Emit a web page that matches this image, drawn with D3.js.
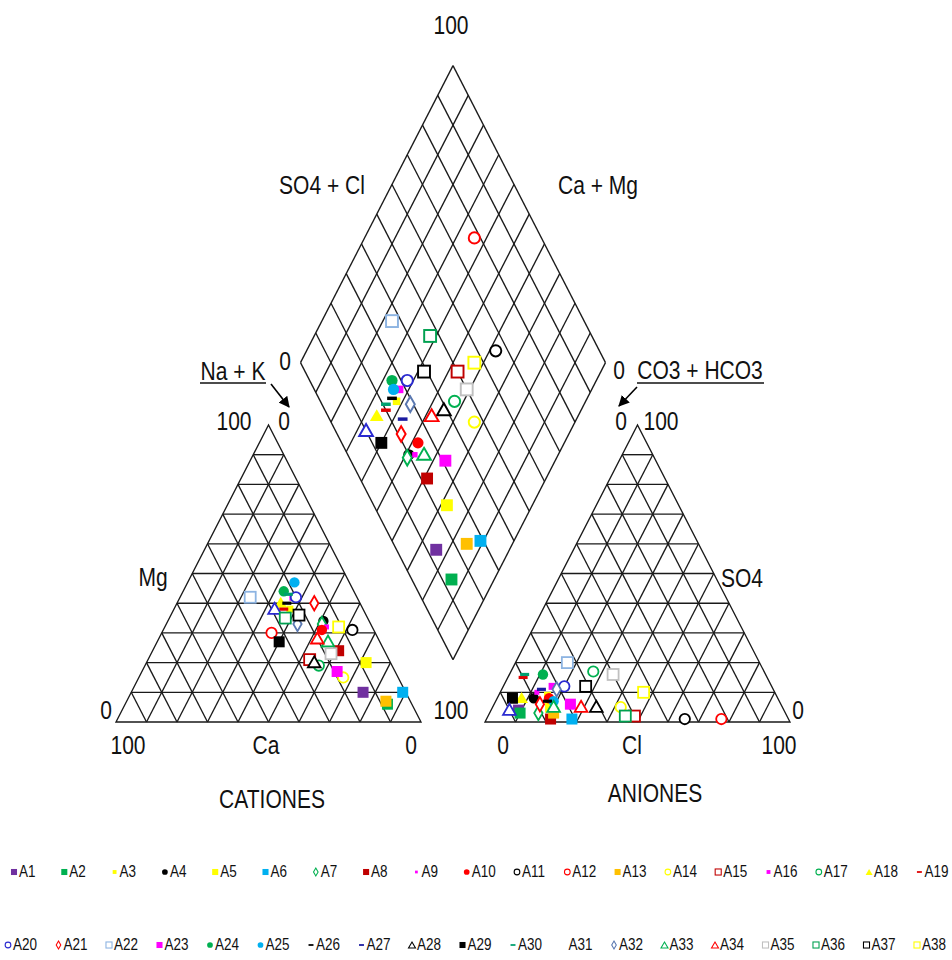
<!DOCTYPE html>
<html><head><meta charset="utf-8">
<script src="https://cdn.jsdelivr.net/npm/d3@7"></script>
<style>body{margin:0;background:#fff}svg{display:block}text{font-family:"Liberation Sans",Arial,sans-serif;fill:#111}</style>
</head><body><svg id="c" width="952" height="960"></svg>
<script>
// ---------- data (percent of meq) ----------
const samples = ["A1","A2","A3","A4","A5","A6","A7","A8","A9","A10","A11","A12","A13","A14","A15","A16","A17","A18","A19",
                 "A20","A21","A22","A23","A24","A25","A26","A27","A28","A29","A30","A31","A32","A33","A34","A35","A36","A37","A38"];
const cationMg  = [10,6,38,34,20,10,33,24,32,31,31,30,7,15,21,42,19,40,38, 42,40,42,17,44,47,40,35,20,27,43,38,33,27,28,23,35,36,32];
const cationNaK = [76,86,38,51,72,89,51,61,53,52,62,36,85,67,53,37,57,34,36, 38,45,23,64,33,35,36,43,55,40,35,33,43,56,52,59,38,42,57];
const anionSO4  = [4,3,9,8,5,1,3,1,10,8,1,1,3,5,2,12,17,8,15, 12,6,20,6,16,7,7,11,5,8,16,4,11,5,5,16,2,12,10];
const anionCl   = [9,10,16,12,19,28,16,21,12,17,65,77,21,42,48,16,27,8,5, 20,15,17,25,11,19,17,13,34,5,5,6,18,20,29,34,45,27,47];

// ---------- marker styles ----------
const markerShape = ["sq","sq","sqS","circle","sq","sq","diamond","sq","dot","circle","circle","circle","sq","circle","sq","sqS","circle","tri","dash",
                     "circle","diamond","sq","sq","circle","circle","dash","dash","tri","sq","dash","tri","diamond","tri","tri","sq","sq","sq","sq"];
const markerColor = ["#7030A0","#00B050","#FFFF00","#000000","#FFFF00","#00B0F0","#00B050","#C00000","#FF00FF","#FF0000","#000000","#FF0000","#FFC000","#FFFF00","#C00000","#FF00FF","#00B050","#FFFF00","#E00000",
                     "#2A2AD0","#FF0000","#8DB4E2","#FF00FF","#00B050","#00B0F0","#000000","#1A1AA0","#000000","#000000","#00A070","#2A2AD0","#5A78B0","#00B050","#FF0000","#C0C0C0","#00A050","#000000","#FFFF00"];
const markerFilled = [1,1,1,1,1,1,0,1,1,1,0,0,1,0,0,1,0,1,1, 0,0,0,1,1,1,1,1,0,1,1,0,0,0,0,0,0,0,0];
const legendHidden = ["A31"];

// ---------- geometry ----------
const W = 305, H = 297, base = 722, gap = 64;
const cx0 = 116, ax0 = cx0 + W + gap;
const dBx = cx0 + W + gap / 2, dBy = base - (gap / 2) * (H / (W / 2));

const svg = d3.select("#c");
const xC = d3.scaleLinear().domain([0, 100]).range([cx0, cx0 + W]);
const xA = d3.scaleLinear().domain([0, 100]).range([ax0, ax0 + W]);
const yT = d3.scaleLinear().domain([0, 100]).range([base, base - H]);
const xD = d3.scaleLinear().domain([-100, 100]).range([dBx - W / 2, dBx + W / 2]);
const yD = d3.scaleLinear().domain([0, 200]).range([dBy, dBy - 2 * H]);

const lineCol = "#1a1a1a", lw = 1.35;
const grid = svg.append("g").attr("stroke", lineCol).attr("stroke-width", lw).attr("fill", "none");
const seg = (a, b) => grid.append("line").attr("x1", a[0]).attr("y1", a[1]).attr("x2", b[0]).attr("y2", b[1]);

function triGrid(xs) {
  const P = (r, t) => [xs(r + t / 2), yT(t)];
  for (let i = 1; i < 10; i++) {
    const v = i * 10;
    seg(P(0, v), P(100 - v, v));
    seg(P(v, 0), P(v, 100 - v));
    seg(P(v, 0), P(0, v));
  }
  grid.append("path").attr("d", d3.line()([P(0, 0), P(100, 0), P(0, 100)]) + "Z");
}
triGrid(xC);
triGrid(xA);

// diamond grid: c = Ca+Mg, s = SO4+Cl
const DP = (c, s) => [xD(s - c), yD(c + s)];
for (let i = 0; i <= 10; i++) {
  const v = i * 10;
  seg(DP(v, 0), DP(v, 100));
  seg(DP(0, v), DP(100, v));
}

// ---------- markers ----------
function drawMarker(g, i, x, y, k) {
  const shp = markerShape[i], col = markerColor[i], filled = markerFilled[i];
  const fill = filled ? col : "#fff", sw = 1.8 * Math.max(k, 0.6);
  let el;
  if (shp === "sq" || shp === "sqS") {
    const s = (shp === "sq" ? 11 : 7) * k;
    el = g.append("rect").attr("x", x - s / 2).attr("y", y - s / 2).attr("width", s).attr("height", s);
  } else if (shp === "circle") {
    el = g.append("circle").attr("cx", x).attr("cy", y).attr("r", 5.2 * k);
  } else if (shp === "diamond") {
    el = g.append("path").attr("transform", `translate(${x},${y})`).attr("d", d3.symbol(d3.symbolDiamond, 60 * k * k)());
  } else if (shp === "tri") {
    el = g.append("path").attr("transform", `translate(${x},${y + 1})`).attr("d", d3.symbol(d3.symbolTriangle, 70 * k * k)());
  } else if (shp === "dash") {
    el = g.append("rect").attr("x", x - 4.5 * k).attr("y", y - 1.6 * k).attr("width", 9 * k).attr("height", 3.2 * k);
  } else {
    el = g.append("rect").attr("x", x - 2.5 * k).attr("y", y - 2.5 * k).attr("width", 5 * k).attr("height", 5 * k);
  }
  el.attr("fill", fill).attr("stroke", col).attr("stroke-width", filled ? 0 : sw);
}

const pts = svg.append("g");
samples.forEach((name, i) => {
  const mg = cationMg[i], na = cationNaK[i];
  const so4 = anionSO4[i], cl = anionCl[i];
  drawMarker(pts, i, xC(na + mg / 2), yT(mg), 1);
  drawMarker(pts, i, xA(cl + so4 / 2), yT(so4), 1);
  const p = DP(100 - na, so4 + cl);
  drawMarker(pts, i, p[0], p[1], 1.08);
});

// ---------- text ----------
const SY = 1.25;
function txt(x, y, s, size, anchor = "middle") {
  return svg.append("text").attr("transform", `translate(${x},${y}) scale(1,${SY})`)
    .attr("text-anchor", anchor).attr("dominant-baseline", "central").style("font-size", size + "px").text(s);
}
const fs = 21;
txt(451, 25, "100", fs);
txt(322, 185, "SO4 + Cl", fs);
txt(598, 185, "Ca + Mg", fs);
txt(285, 361, "0", fs);
txt(619, 370, "0", fs);
txt(233, 371, "Na + K", fs);
txt(700, 370, "CO3 + HCO3", fs);
svg.append("line").attr("x1", 200).attr("x2", 266).attr("y1", 383).attr("y2", 383).attr("stroke", "#111").attr("stroke-width", 1.4);
svg.append("line").attr("x1", 637).attr("x2", 764).attr("y1", 383).attr("y2", 383).attr("stroke", "#111").attr("stroke-width", 1.4);

svg.append("defs").append("marker").attr("id", "ah").attr("viewBox", "0 0 10 10").attr("refX", 9).attr("refY", 5)
  .attr("markerUnits", "userSpaceOnUse").attr("markerWidth", 11).attr("markerHeight", 11).attr("orient", "auto")
  .append("path").attr("d", "M0,0L10,5L0,10Z").attr("fill", "#000");
svg.append("line").attr("x1", 271).attr("y1", 384).attr("x2", 289).attr("y2", 407).attr("stroke", "#000").attr("stroke-width", 1.6).attr("marker-end", "url(#ah)");
svg.append("line").attr("x1", 637).attr("y1", 387).attr("x2", 619).attr("y2", 406).attr("stroke", "#000").attr("stroke-width", 1.6).attr("marker-end", "url(#ah)");

txt(234, 421, "100", fs);
txt(284, 421, "0", fs);
txt(621, 421, "0", fs);
txt(661, 421, "100", fs);
txt(153, 577, "Mg", fs);
txt(742, 578, "SO4", fs);
txt(106, 710, "0", fs);
txt(451, 710, "100", fs);
txt(798, 710, "0", fs);
txt(128, 745, "100", fs);
txt(266, 745, "Ca", fs);
txt(411, 745, "0", fs);
txt(503, 745, "0", fs);
txt(632, 745, "Cl", fs);
txt(779, 745, "100", fs);
txt(272, 799, "CATIONES", fs);
txt(655, 793, "ANIONES", fs);

// ---------- legend ----------
const lg = svg.append("g");
samples.forEach((name, i) => {
  const row = i < 19 ? 0 : 1;
  const j = row ? i - 19 : i;
  const mx = row ? 8 + 50.5 * j : 14 + 50.3 * j;
  const my = row ? 945 : 872;
  if (!legendHidden.includes(name)) drawMarker(lg, i, mx, my, 0.55);
  lg.append("text").attr("transform", `translate(${mx + 5},${my}) scale(1,1.2)`)
    .attr("dominant-baseline", "central").style("font-size", "13.5px").text(name);
});
</script></body></html>
